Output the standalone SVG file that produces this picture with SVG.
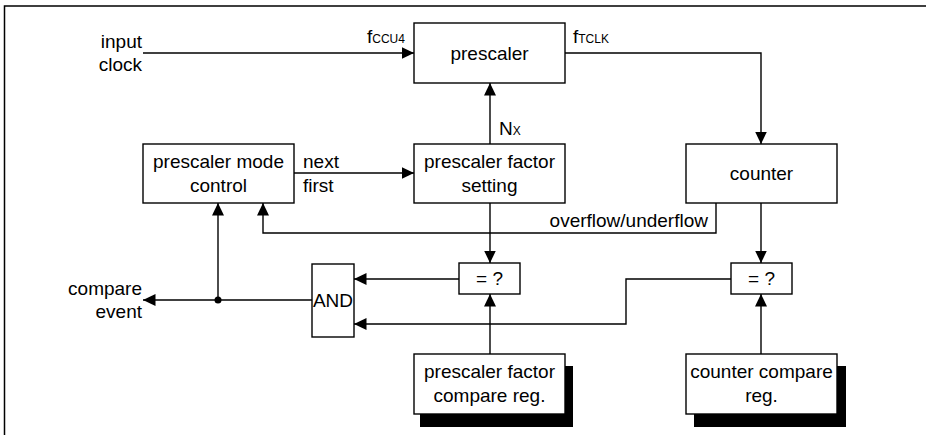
<svg xmlns="http://www.w3.org/2000/svg" width="926" height="435" viewBox="0 0 926 435">
<defs>
<marker id="ah" markerUnits="userSpaceOnUse" markerWidth="13" markerHeight="12" viewBox="0 0 13 12" refX="12.5" refY="6" orient="auto">
<path d="M0,0 L12.5,6 L0,12 z" fill="#000"/>
</marker>
<style>
.b{fill:#fff;stroke:#000;stroke-width:1.4}
.s{fill:#000}
.c{fill:none;stroke:#000;stroke-width:1.4}
.t{font-family:"Liberation Sans",Arial,sans-serif;font-size:19px;fill:#000}
.m{text-anchor:middle}
.e{text-anchor:end}
.sub{font-size:12px}
</style>
</defs>
<rect width="926" height="435" fill="#fff"/>
<path d="M4.5,435 V6 H926" fill="none" stroke="#000" stroke-width="1.5"/>

<g id="connectors">
<path class="c" d="M143,53 H414" marker-end="url(#ah)"/>
<path class="c" d="M565,53 H761 V144" marker-end="url(#ah)"/>
<path class="c" d="M490,144 V83" marker-end="url(#ah)"/>
<path class="c" d="M294,173 H414" marker-end="url(#ah)"/>
<path class="c" d="M716,203 V233 H263 V203" marker-end="url(#ah)"/>
<path class="c" d="M490,203 V263" marker-end="url(#ah)"/>
<path class="c" d="M761,203 V263" marker-end="url(#ah)"/>
<path class="c" d="M459,279 H354" marker-end="url(#ah)"/>
<path class="c" d="M731,279 H626 V324 H354" marker-end="url(#ah)"/>
<path class="c" d="M490,354 V294" marker-end="url(#ah)"/>
<path class="c" d="M761,354 V294" marker-end="url(#ah)"/>
<path class="c" d="M312,300 H143" marker-end="url(#ah)"/>
<path class="c" d="M218,300 V203" marker-end="url(#ah)"/>
<circle cx="218" cy="300" r="3.5" fill="#000"/>
<text class="t e" x="142" y="48">input</text>
<text class="t e" x="142" y="71">clock</text>
<text class="t" x="367" y="43">f<tspan class="sub">CCU4</tspan></text>
<text class="t" x="573" y="43">f<tspan class="sub">TCLK</tspan></text>
<text class="t" x="499" y="135">N<tspan class="sub">X</tspan></text>
<text class="t" x="303" y="168">next</text>
<text class="t" x="303" y="192">first</text>
<text class="t e" x="708" y="227">overflow/underflow</text>
<text class="t e" x="142" y="295">compare</text>
<text class="t e" x="142" y="318">event</text>
</g>

<g id="prescaler">
<rect class="b" x="414" y="23" width="151" height="60"/>
<text class="t m" x="489.5" y="60">prescaler</text>
</g>
<g id="prescaler-mode-control">
<rect class="b" x="143" y="144" width="151" height="59"/>
<text class="t m" x="218.5" y="168">prescaler mode</text>
<text class="t m" x="218.5" y="192">control</text>
</g>
<g id="prescaler-factor-setting">
<rect class="b" x="414" y="144" width="151" height="59"/>
<text class="t m" x="489.5" y="168">prescaler factor</text>
<text class="t m" x="489.5" y="192">setting</text>
</g>
<g id="counter">
<rect class="b" x="686" y="144" width="151" height="59"/>
<text class="t m" x="761.5" y="180">counter</text>
</g>
<g id="compare1">
<rect class="b" x="459" y="263" width="61" height="31"/>
<text class="t m" x="489.5" y="285">= ?</text>
</g>
<g id="compare2">
<rect class="b" x="731" y="263" width="61" height="31"/>
<text class="t m" x="761.5" y="285">= ?</text>
</g>
<g id="and">
<rect class="b" x="312" y="264" width="42" height="73"/>
<text class="t m" x="333" y="307">AND</text>
</g>
<g id="prescaler-factor-compare-reg">
<rect class="s" x="420" y="366" width="153" height="61"/>
<rect class="b" x="414" y="354" width="151" height="60"/>
<text class="t m" x="489.5" y="378">prescaler factor</text>
<text class="t m" x="489.5" y="402">compare reg.</text>
</g>
<g id="counter-compare-reg">
<rect class="s" x="694" y="366" width="152" height="61"/>
<rect class="b" x="686" y="354" width="151" height="60"/>
<text class="t m" x="761.5" y="378">counter compare</text>
<text class="t m" x="761.5" y="402">reg.</text>
</g>
</svg>
